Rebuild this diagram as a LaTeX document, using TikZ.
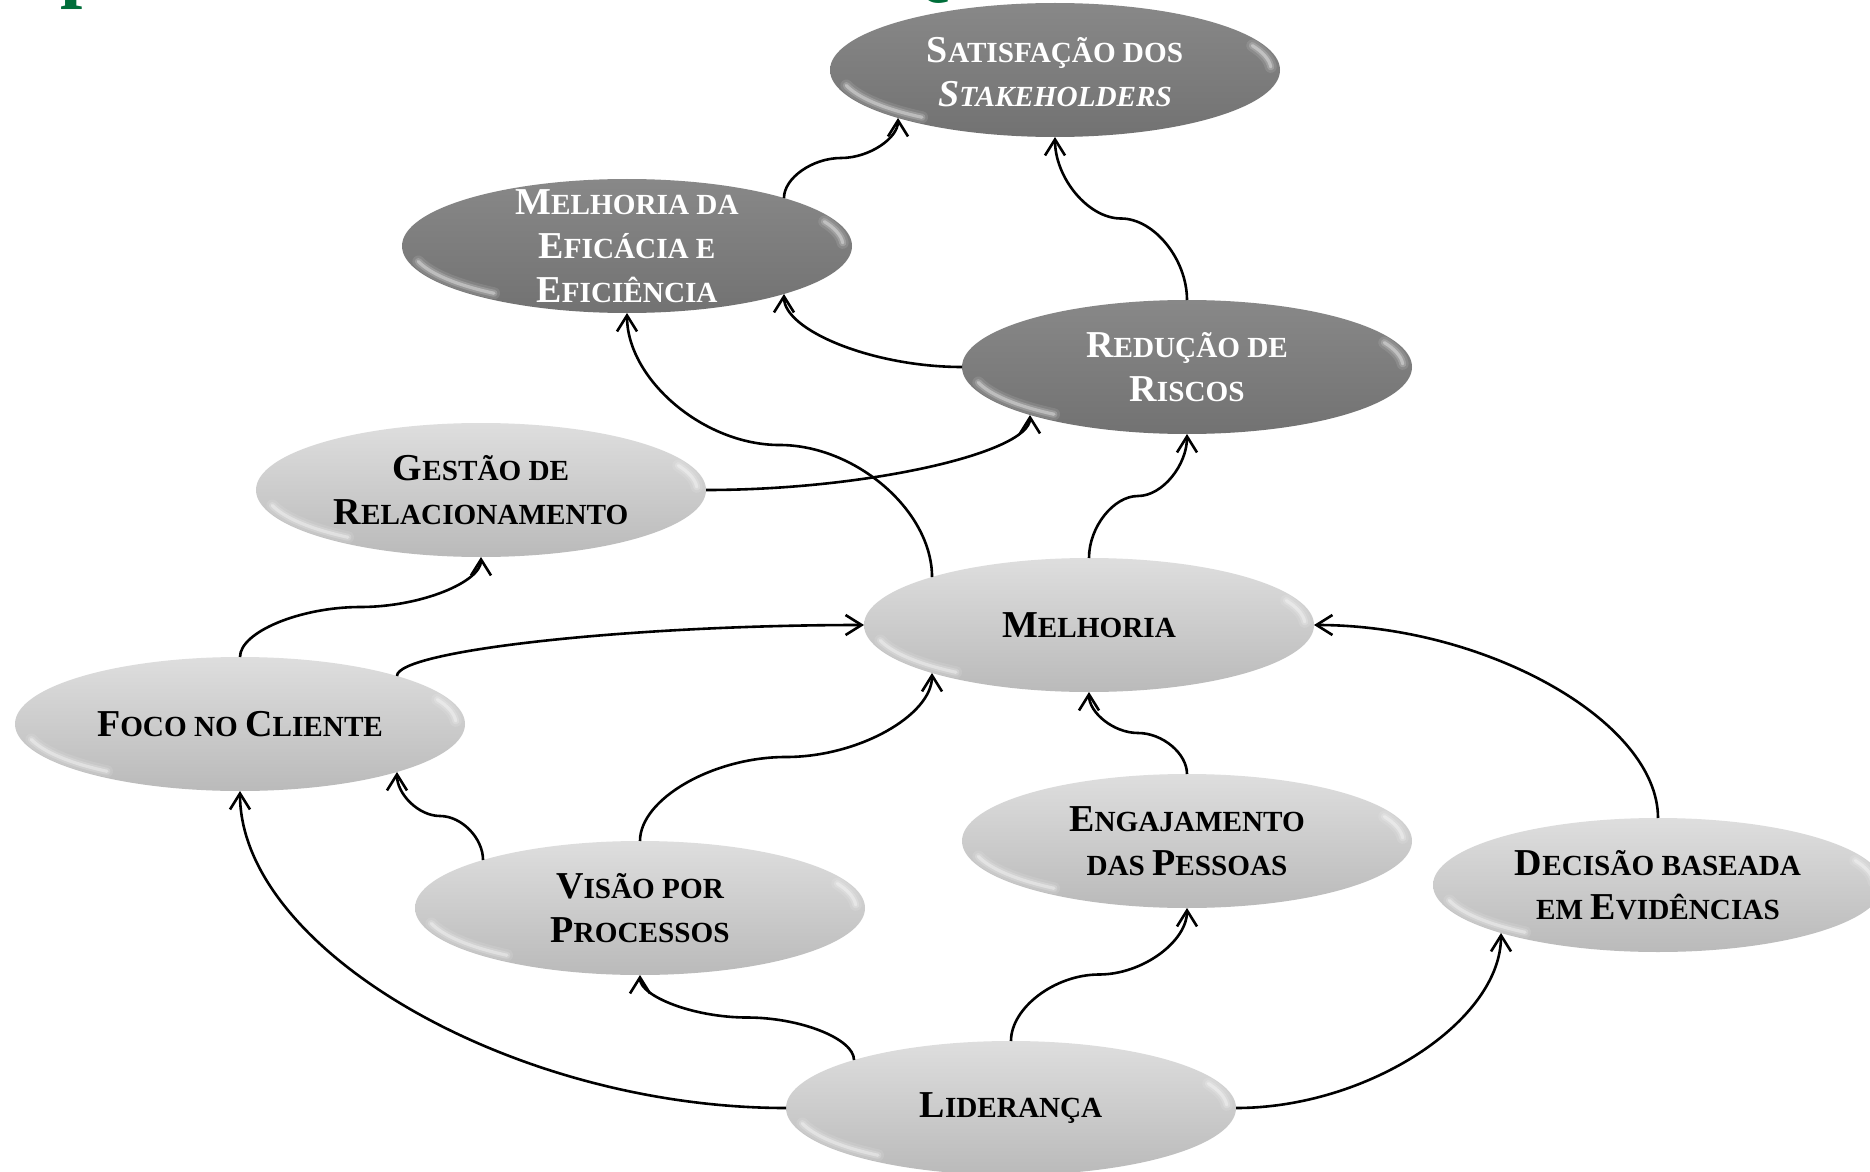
\documentclass[tikz,border=0pt]{standalone}
\usepackage{fontspec}
\setmainfont{Liberation Serif}
\usetikzlibrary{arrows.meta,calc,shapes.geometric}

\definecolor{titlegreen}{RGB}{0,110,58}
\definecolor{darkTop}{RGB}{136,136,136}
\definecolor{darkMid}{RGB}{128,128,128}
\definecolor{darkBot}{RGB}{114,114,114}
\definecolor{lightTop}{RGB}{222,222,222}
\definecolor{lightMid}{RGB}{210,210,210}
\definecolor{lightBot}{RGB}{186,186,186}

% capital letter of the hand-made small caps
\newcommand\Bg[1]{{\fontsize{19}{22}\selectfont #1}}

% one soft glint arc, drawn in three passes
\newcommand\glintarc[3]{%
  \foreach \w/\o in {6pt/0.10,3.5pt/0.18,1.6pt/0.35}{%
    \draw[white, line width=\w, opacity=\o, line cap=round]
      ($(#1.center)+({216*cos(#2)},{60*sin(#2)})$)
      arc[start angle=#2,end angle=#3,x radius=216,y radius=60];}}
\newcommand\glint[1]{\glintarc{#1}{195}{232}\glintarc{#1}{3}{24}}

% curved connectors: vertical S, horizontal-then-vertical, vertical-then-horizontal
\newcommand\sconn[2]{%
  \draw[link] let \p1=(#1), \p2=(#2), \p3=($(#1)!0.5!(#2)$) in
    (\p1) .. controls (\x1,{(\y1+\y3)/2}) and ({(\x1+\x3)/2},\y3) .. (\p3)
          .. controls ({(\x3+\x2)/2},\y3) and (\x2,{(\y3+\y2)/2}) .. (\p2);}
\newcommand\hvconn[2]{%
  \draw[link] let \p1=(#1), \p2=(#2) in
    (\p1) .. controls ({(\x1+\x2)/2},\y1) and (\x2,{(\y1+\y2)/2}) .. (\p2);}
\newcommand\vhconn[2]{%
  \draw[link] let \p1=(#1), \p2=(#2) in
    (\p1) .. controls (\x1,{(\y1+\y2)/2}) and ({(\x1+\x2)/2},\y2) .. (\p2);}

\tikzset{
  ell/.style={ellipse, minimum width=225pt, minimum height=67pt,
    inner sep=0pt, outer sep=0pt},
  darkell/.style={ell, top color=darkTop, middle color=darkMid, bottom color=darkBot},
  lightell/.style={ell, top color=lightTop, middle color=lightMid, bottom color=lightBot},
  lbl/.style={align=center, inner sep=0pt,
    font=\bfseries\fontsize{14.6}{22}\selectfont},
  dlbl/.style={lbl, text=white},
  llbl/.style={lbl, text=black},
  link/.style={line width=1.3pt, -{Straight Barb[length=8pt,width=10pt]}},
  frag/.style={anchor=base west, inner sep=0pt, text=titlegreen,
    font=\bfseries\fontsize{40}{40}\selectfont},
}

\begin{document}
\begin{tikzpicture}[x=0.5pt,y=0.5pt]
\useasboundingbox (0,-1172) rectangle (1870,0);
\clip (0,-1172) rectangle (1870,0);
\fill[white] (0,-1172) rectangle (1870,0);

% heading running off the top edge
\node[frag] (headP) at (60,7) {p};
\node[frag] (headQ) at (889,9) {Q};

% ellipses
\node[darkell]  (sat) at (1055,-70)  {};
\node[darkell]  (mef) at (627,-246)  {};
\node[darkell]  (red) at (1187,-367) {};
\node[lightell] (ges) at (481,-490)  {};
\node[lightell] (mel) at (1089,-625) {};
\node[lightell] (foc) at (240,-724)  {};
\node[lightell] (eng) at (1187,-841) {};
\node[lightell] (vis) at (640,-908)  {};
\node[lightell] (dec) at (1658,-885) {};
\node[lightell] (lid) at (1011,-1108) {};

\foreach \n in {sat,mef,red,ges,mel,foc,eng,vis,dec,lid} {\glint{\n}}

% labels
\node[dlbl] (satT) at ([yshift=-1pt]sat.center) {\Bg{S}ATISFAÇÃO DOS\\\textit{\Bg{S}TAKEHOLDERS}};
\node[dlbl] (mefT) at (mef) {\Bg{M}ELHORIA DA\\\Bg{E}FICÁCIA E\\\Bg{E}FICIÊNCIA};
\node[dlbl] (redT) at (red) {\Bg{R}EDUÇÃO DE\\\Bg{R}ISCOS};
\node[llbl] (gesT) at (ges) {\Bg{G}ESTÃO DE\\\Bg{R}ELACIONAMENTO};
\node[llbl] (melT) at (mel) {\Bg{M}ELHORIA};
\node[llbl] (focT) at (foc) {\Bg{F}OCO NO \Bg{C}LIENTE};
\node[llbl] (engT) at (eng) {\Bg{E}NGAJAMENTO\\DAS \Bg{P}ESSOAS};
\node[llbl] (visT) at (vis) {\Bg{V}ISÃO POR\\\Bg{P}ROCESSOS};
\node[llbl] (decT) at (dec) {\Bg{D}ECISÃO BASEADA\\EM \Bg{E}VIDÊNCIAS};
\node[llbl] (lidT) at (lid) {\Bg{L}IDERANÇA};

% connectors
\sconn{mef.17}{sat.197}
\sconn{red.north}{sat.south}
\hvconn{red.west}{mef.-17}
\sconn{mel.163}{mef.south}
\hvconn{ges.east}{red.197}
\sconn{mel.north}{red.south}
\sconn{foc.north}{ges.south}
\vhconn{foc.17}{mel.west}
\sconn{vis.north}{mel.197}
\sconn{eng.north}{mel.south}
\vhconn{dec.north}{mel.east}
\sconn{vis.163}{foc.-17}
\hvconn{lid.west}{foc.south}
\sconn{lid.163}{vis.south}
\sconn{lid.north}{eng.south}
\hvconn{lid.east}{dec.197}
\end{tikzpicture}
\end{document}
